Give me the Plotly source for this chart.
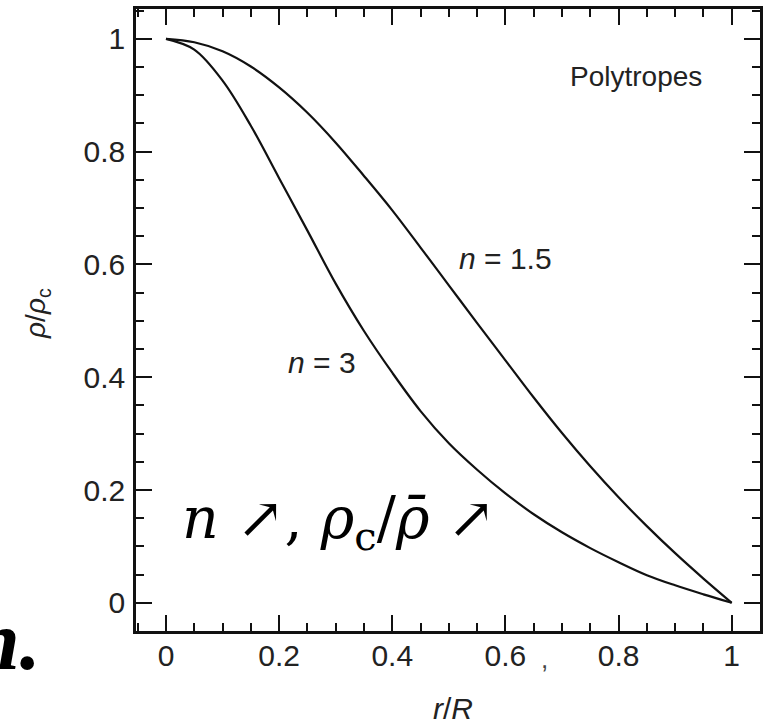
import plotly.graph_objects as go

# Radius fraction r/R
r_vals = [0.0, 0.05, 0.10, 0.15, 0.20, 0.25, 0.30, 0.35, 0.40, 0.45, 0.50,
          0.55, 0.60, 0.65, 0.70, 0.75, 0.80, 0.85, 0.90, 0.95, 1.0]
# density profile rho/rho_c
rho_n15 = [1.0, 0.994, 0.978, 0.951, 0.914, 0.869, 0.816, 0.757, 0.696, 0.630, 0.563,
           0.496, 0.430, 0.364, 0.301, 0.242, 0.187, 0.136, 0.088, 0.043, 0.0]
rho_n3 = [1.0, 0.981, 0.926, 0.846, 0.753, 0.660, 0.566, 0.482, 0.408, 0.340, 0.283,
          0.236, 0.194, 0.157, 0.125, 0.097, 0.072, 0.049, 0.031, 0.015, 0.0]

major_ticks = [0, 0.2, 0.4, 0.6, 0.8, 1.0]
x_tick_text = ["0", "0.2", "0.4", "0.6", "0.8", "1"]
y_tick_text = ["0", "0.2", "0.4", "0.6", "0.8", "1"]

AX_FONT = "Liberation Sans, Arial, Helvetica, sans-serif"
INK = "#111111"

fig = go.Figure()
fig.add_trace(go.Scatter(x=r_vals, y=rho_n15, mode="lines", line=dict(color=INK, width=2.2, shape="spline"),
                         showlegend=False, hoverinfo="skip"))
fig.add_trace(go.Scatter(x=r_vals, y=rho_n3, mode="lines", line=dict(color=INK, width=2.2, shape="spline"),
                         showlegend=False, hoverinfo="skip"))

axis_common = dict(
    showline=True, mirror="ticks", linecolor=INK, linewidth=2.5,
    ticks="inside", ticklen=16, tickwidth=2, tickcolor=INK,
    showgrid=False, zeroline=False, automargin=False,
    tickfont=dict(family=AX_FONT, size=30, color="#222"),
    minor=dict(dtick=0.05, tick0=0, ticks="inside", ticklen=8, tickwidth=2, tickcolor=INK, showgrid=False),
)

fig.update_xaxes(range=[-0.053, 1.05], tickmode="array", tickvals=major_ticks, ticktext=x_tick_text,
                 ticklabelstandoff=-4, **axis_common)
fig.update_yaxes(range=[-0.05, 1.053], tickmode="array", tickvals=major_ticks, ticktext=y_tick_text,
                 ticklabelstandoff=2, **axis_common)

annotations = [
    dict(x=0.951, y=0.933, xref="x", yref="y", text="Polytropes", xanchor="right", yanchor="middle",
         font=dict(family=AX_FONT, size=28, color="#222")),
    dict(x=0.600, y=0.610, xref="x", yref="y", text="<i>n</i> = 1.5", xanchor="center", yanchor="middle",
         font=dict(family=AX_FONT, size=30, color="#222")),
    dict(x=0.276, y=0.427, xref="x", yref="y", text="<i>n</i> = 3", xanchor="center", yanchor="middle",
         font=dict(family=AX_FONT, size=30, color="#222")),
    dict(x=0.654, y=-0.0455, xref="paper", yref="paper", text=",", xanchor="center", yanchor="middle",
         font=dict(family=AX_FONT, size=26, color="#444")),
    dict(x=0.025, y=0.143, xref="x", yref="y",
         text="<i>n</i> ↗, <i>ρ</i><sub>c</sub>/<i>ρ̄</i> ↗", xanchor="left", yanchor="middle",
         font=dict(family="DejaVu Serif, serif", size=57, color="#000")),
    dict(x=-0.149, y=-0.0145, xref="paper", yref="paper", text="<b><i>n.</i></b>", xanchor="right",
         yanchor="middle", font=dict(family="Liberation Serif, DejaVu Serif, serif", size=84, color="#000")),
    dict(x=0.508, y=-0.125, xref="paper", yref="paper", text="<i>r</i>/<i>R</i>", xanchor="center",
         yanchor="middle", font=dict(family=AX_FONT, size=30, color="#222")),
    dict(x=-0.159, y=0.511, xref="paper", yref="paper", text="<i>ρ</i>/<i>ρ</i><sub>c</sub>", xanchor="center",
         yanchor="middle", textangle=-90, font=dict(family=AX_FONT, size=28, color="#222")),
]
for a in annotations:
    a["showarrow"] = False

fig.update_layout(
    width=774, height=721,
    margin=dict(l=136, r=14, t=9, b=90),
    paper_bgcolor="white", plot_bgcolor="white",
    annotations=annotations,
    showlegend=False,
)

fig.write_html("out.html", config={"displayModeBar": False},
               post_script="document.body.style.margin='0';document.body.style.overflow='hidden';")
